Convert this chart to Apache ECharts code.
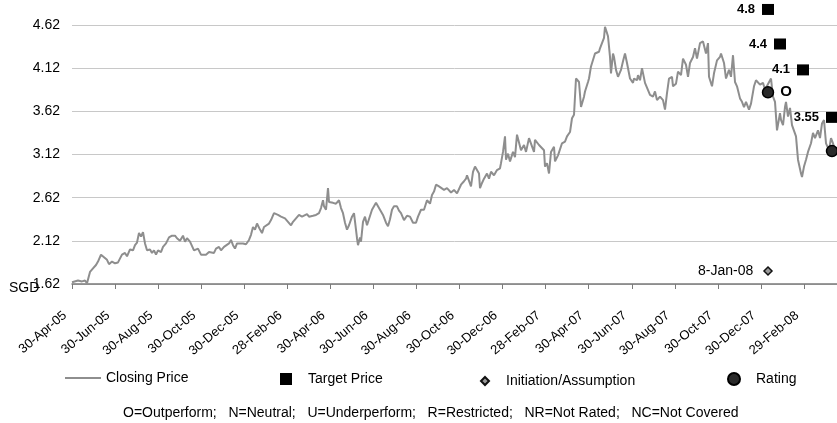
<!DOCTYPE html>
<html lang="en">

<head>
    <meta charset="UTF-8">
    <title>Closing price, target price and rating history</title>
    <style>
        html,
        body {
            margin: 0;
            padding: 0;
            background: #fff;
        }
    </style>
</head>

<body>
    <div id="main" style="width: 837px;height:423px;"></div>
    <script src="https://cdn.jsdelivr.net/npm/echarts/dist/echarts.min.js"></script>
    <script type="text/javascript">
        // x axis: trading days counted from 30-Apr-05, one tick every two months
        var tickLabels = ['30-Apr-05', '30-Jun-05', '30-Aug-05', '30-Oct-05', '30-Dec-05', '28-Feb-06',
            '30-Apr-06', '30-Jun-06', '30-Aug-06', '30-Oct-06', '30-Dec-06', '28-Feb-07',
            '30-Apr-07', '30-Jun-07', '30-Aug-07', '30-Oct-07', '30-Dec-07', '29-Feb-08'];
        var tickStep = 43.06;
        var lastDay = 765;

        var tradeDay = [
            0, 2, 6, 10, 13, 15, 17, 18, 21, 24,
            26, 29, 31, 35, 37, 40, 43, 46, 50, 53,
            55, 58, 61, 63, 65, 67, 69, 71, 73, 75,
            78, 80, 82, 84, 86, 89, 91, 94, 97, 100,
            103, 105, 108, 111, 113, 115, 118, 120, 122, 124,
            126, 129, 131, 134, 137, 139, 142, 144, 147, 149,
            152, 154, 157, 159, 161, 163, 165, 168, 171, 174,
            177, 179, 181, 183, 185, 188, 190, 192, 194, 197,
            199, 202, 204, 206, 209, 211, 213, 216, 219, 221,
            224, 227, 230, 232, 235, 237, 241, 244, 247, 249,
            251, 252, 254, 256, 257, 261, 264, 267, 269, 271,
            273, 275, 277, 280, 282, 285, 286, 288, 289, 291,
            293, 295, 297, 300, 302, 304, 307, 309, 311, 314,
            316, 318, 320, 322, 325, 327, 329, 332, 335, 338,
            341, 344, 346, 349, 352, 355, 358, 360, 362, 364,
            367, 369, 372, 375, 379, 382, 385, 389, 392, 394,
            395, 399, 401, 403, 405, 407, 408, 410, 412, 415,
            417, 419, 422, 425, 428, 429, 431, 433, 434, 436,
            438, 441, 443, 445, 447, 449, 452, 454, 457, 459,
            462, 463, 467, 469, 472, 473, 475, 477, 479, 482,
            483, 486, 488, 490, 493, 495, 498, 500, 502, 504,
            507, 509, 512, 513, 516, 517, 519, 521, 523, 527,
            528, 530, 532, 533, 536, 538, 539, 541, 542, 544,
            546, 549, 551, 553, 555, 558, 561, 562, 565, 566,
            568, 570, 571, 573, 575, 578, 581, 583, 585, 588,
            591, 593, 595, 597, 600, 601, 604, 606, 609, 611,
            614, 616, 618, 621, 623, 625, 628, 631, 632, 634,
            636, 637, 640, 642, 645, 648, 649, 652, 654, 657,
            659, 661, 663, 665, 668, 670, 672, 674, 677, 679,
            682, 684, 688, 691, 693, 695, 699, 701, 703, 705,
            708, 709, 711, 713, 714, 716, 718, 720, 722, 724,
            726, 729, 730, 732, 734, 736, 739, 741, 743, 746,
            748, 750, 752, 754, 757, 759, 761, 763, 764
        ];
        var closePrice = [
            1.64, 1.66, 1.66, 1.65, 1.66, 1.63, 1.62, 1.76, 1.80, 1.84,
            1.88, 1.96, 1.94, 1.90, 1.85, 1.88, 1.86, 1.87, 1.96, 1.98,
            1.94, 2.02, 2.01, 2.07, 2.10, 2.21, 2.17, 2.22, 2.09, 2.01,
            2.02, 1.98, 2.01, 1.96, 2.01, 1.99, 2.05, 2.09, 2.16, 2.18,
            2.18, 2.15, 2.12, 2.18, 2.11, 2.15, 2.11, 2.13, 2.01, 1.99,
            2.03, 1.96, 1.94, 1.96, 1.99, 2.01, 1.98, 2.03, 2.05, 2.01,
            2.05, 2.03, 2.09, 2.13, 2.07, 2.03, 2.09, 2.09, 2.09, 2.08,
            2.13, 2.19, 2.28, 2.25, 2.32, 2.25, 2.21, 2.28, 2.30, 2.32,
            2.36, 2.44, 2.46, 2.42, 2.40, 2.42, 2.38, 2.34, 2.30, 2.34,
            2.38, 2.42, 2.40, 2.38, 2.43, 2.40, 2.41, 2.42, 2.44, 2.50,
            2.59, 2.52, 2.48, 2.73, 2.57, 2.56, 2.55, 2.59, 2.50, 2.44,
            2.33, 2.25, 2.30, 2.40, 2.44, 2.15, 2.07, 2.16, 2.11, 2.34,
            2.40, 2.30, 2.32, 2.48, 2.48, 2.56, 2.50, 2.48, 2.42, 2.33,
            2.29, 2.37, 2.48, 2.52, 2.52, 2.47, 2.44, 2.36, 2.41, 2.40,
            2.33, 2.33, 2.40, 2.48, 2.48, 2.59, 2.55, 2.65, 2.69, 2.77,
            2.75, 2.75, 2.71, 2.73, 2.68, 2.71, 2.67, 2.77, 2.81, 2.84,
            2.88, 2.75, 2.92, 2.98, 2.94, 2.90, 2.73, 2.79, 2.84, 2.90,
            2.84, 2.92, 2.88, 2.94, 2.96, 3.02, 3.15, 3.33, 3.06, 3.13,
            3.04, 3.15, 3.09, 3.35, 3.33, 3.17, 3.23, 3.15, 3.31, 3.33,
            3.15, 3.29, 3.23, 3.23, 3.17, 2.98, 3.02, 2.90, 3.15, 3.21,
            3.04, 3.11, 3.13, 3.25, 3.27, 3.33, 3.38, 3.54, 3.58, 4.00,
            3.96, 3.67, 3.79, 3.85, 3.96, 4.00, 4.14, 4.16, 4.29, 4.31,
            4.35, 4.37, 4.47, 4.60, 4.49, 4.25, 4.06, 4.29, 4.25, 4.10,
            4.02, 4.10, 4.20, 4.29, 4.18, 4.00, 3.95, 4.00, 3.98, 4.04,
            3.98, 4.12, 4.14, 3.95, 3.96, 3.81, 3.79, 3.85, 3.75, 3.79,
            3.75, 3.64, 3.83, 4.00, 4.02, 3.91, 3.94, 4.08, 4.04, 4.23,
            4.16, 4.02, 4.18, 4.25, 4.35, 4.23, 4.41, 4.43, 4.45, 4.29,
            4.41, 4.02, 3.91, 4.06, 4.21, 4.25, 4.29, 4.18, 4.00, 4.10,
            4.02, 4.27, 3.96, 3.91, 3.77, 3.73, 3.67, 3.73, 3.64, 3.71,
            3.91, 3.98, 3.93, 3.95, 3.87, 3.87, 4.00, 3.79, 3.73, 3.40,
            3.60, 3.52, 3.46, 3.67, 3.73, 3.56, 3.66, 3.46, 3.48, 3.33,
            3.06, 2.90, 2.86, 2.98, 3.06, 3.15, 3.25, 3.37, 3.31, 3.40,
            3.31, 3.48, 3.52, 3.25, 3.17, 3.31, 3.25, 3.17, 3.16
        ];

        var targetDay = [696, 708, 731, 760];
        var targetPrice = [4.8, 4.4, 4.1, 3.55];

        var ratingDay = [696, 760];
        var ratingPrice = [3.84, 3.16];
        var ratingLabel = ['O', ''];

        var initiationDay = [696];
        var initiationLevel = [1.77];
        var initiationLabel = ['8-Jan-08'];

        var footnote = 'O=Outperform;   N=Neutral;   U=Underperform;   R=Restricted;   NR=Not Rated;   NC=Not Covered';

        var fontName = "'Liberation Sans', Arial, sans-serif";

        function zip(xs, ys) {
            return xs.map(function (x, i) { return [x, ys[i]]; });
        }

        var myChart = echarts.init(document.getElementById('main'));

        var option = {
            animation: false,
            backgroundColor: '#fff',
            textStyle: { fontFamily: fontName, color: '#000' },
            title: {
                text: footnote,
                left: 123,
                top: 406,
                padding: 0,
                textStyle: { fontFamily: fontName, fontSize: 14, fontWeight: 'normal', color: '#000' }
            },
            graphic: [{
                type: 'text',
                left: 9,
                top: 281,
                style: { text: 'SGD', font: '14px ' + fontName, fill: '#000' }
            }],
            legend: [{
                data: [{ name: 'Closing Price', icon: 'rect' }],
                left: 65, top: 371, padding: 0,
                itemWidth: 36, itemHeight: 2,
                selectedMode: false,
                textStyle: { fontFamily: fontName, fontSize: 14, color: '#000' }
            }, {
                data: ['Target Price'],
                left: 280, top: 372, padding: 0,
                itemWidth: 12, itemHeight: 12,
                selectedMode: false,
                textStyle: { fontFamily: fontName, fontSize: 14, color: '#000', padding: [0, 0, 0, 11] }
            }, {
                data: ['Initiation/Assumption'],
                left: 480, top: 374, padding: 0,
                itemWidth: 8, itemHeight: 8,
                selectedMode: false,
                textStyle: { fontFamily: fontName, fontSize: 14, color: '#000', padding: [0, 0, 0, 12] }
            }, {
                data: ['Rating'],
                left: 727, top: 372, padding: 0,
                itemWidth: 12, itemHeight: 12,
                selectedMode: false,
                textStyle: { fontFamily: fontName, fontSize: 14, color: '#000', padding: [0, 0, 0, 11] }
            }],
            grid: {
                left: 72,
                right: 0,
                top: 25,
                bottom: 139,
                containLabel: false,
                outerBoundsMode: 'none'
            },
            xAxis: {
                type: 'value',
                min: 0,
                max: lastDay,
                interval: tickStep,
                axisLine: { show: true, onZero: false, lineStyle: { color: '#7a7a7a', width: 1.5 } },
                axisTick: { show: true, length: 5, lineStyle: { color: '#7a7a7a' } },
                splitLine: { show: false },
                axisLabel: {
                    rotate: 40,
                    margin: 24,
                    padding: [0, 9, 0, 0],
                    fontSize: 13,
                    color: '#000',
                    fontFamily: fontName,
                    formatter: function (v) {
                        var i = Math.round(v / tickStep);
                        if (Math.abs(v - i * tickStep) > 0.5) return '';
                        return tickLabels[i] || '';
                    }
                }
            },
            yAxis: {
                type: 'value',
                min: 1.62,
                max: 4.62,
                interval: 0.5,
                axisLine: { show: false },
                axisTick: { show: false },
                splitLine: { show: true, lineStyle: { color: '#c8c8c8', width: 1 } },
                axisLabel: {
                    margin: 12,
                    fontSize: 14,
                    color: '#000',
                    fontFamily: fontName,
                    formatter: function (v) { return v.toFixed(2); }
                }
            },
            series: [{
                name: 'Closing Price',
                type: 'line',
                data: zip(tradeDay, closePrice),
                symbol: 'none',
                lineStyle: { color: '#8e8e8e', width: 2 },
                itemStyle: { color: '#8e8e8e' },
                z: 2
            }, {
                name: 'Target Price',
                type: 'scatter',
                data: zip(targetDay, targetPrice),
                symbol: 'rect',
                symbolSize: [12, 11],
                clip: false,
                itemStyle: { color: '#000', opacity: 1 },
                label: {
                    show: true,
                    position: 'left',
                    distance: 7,
                    fontFamily: fontName,
                    fontSize: 13,
                    fontWeight: 'bold',
                    color: '#000',
                    formatter: function (p) { return String(p.value[1]); }
                },
                z: 4
            }, {
                name: 'Initiation/Assumption',
                type: 'scatter',
                data: zip(initiationDay, initiationLevel),
                symbol: 'diamond',
                symbolSize: 8,
                clip: false,
                itemStyle: { color: '#9a9a9a', borderColor: '#111', borderWidth: 1.5, opacity: 1 },
                label: {
                    show: true,
                    position: 'left',
                    distance: 10,
                    fontFamily: fontName,
                    fontSize: 14,
                    color: '#000',
                    formatter: function (p) { return initiationLabel[p.dataIndex]; }
                },
                z: 4
            }, {
                name: 'Rating',
                type: 'scatter',
                data: zip(ratingDay, ratingPrice),
                symbol: 'circle',
                symbolSize: 11,
                clip: false,
                itemStyle: { color: '#2a2a2a', borderColor: '#000', borderWidth: 1.5, opacity: 1 },
                label: {
                    show: true,
                    position: 'right',
                    distance: 6,
                    fontFamily: fontName,
                    fontSize: 15,
                    fontWeight: 'bold',
                    color: '#000',
                    formatter: function (p) { return ratingLabel[p.dataIndex]; }
                },
                z: 5
            }]
        };

        myChart.setOption(option);
        window.addEventListener("resize", function () {
            myChart.resize();
        });
    </script>
</body>

</html>
